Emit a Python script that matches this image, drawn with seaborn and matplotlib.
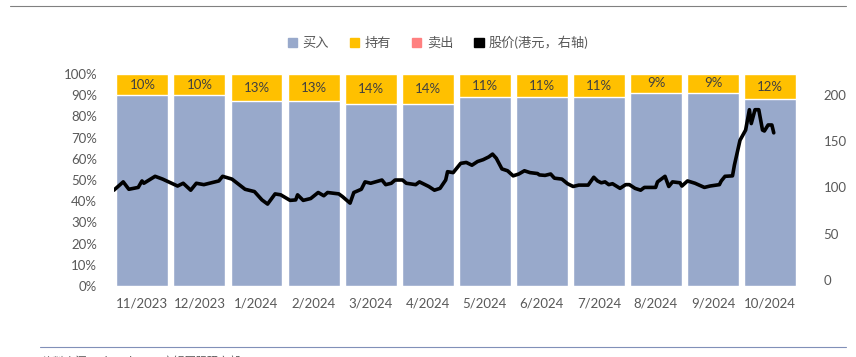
import numpy as np
import pandas as pd
import matplotlib
matplotlib.use('Agg')
import matplotlib.pyplot as plt
import seaborn as sns
from matplotlib.patches import Patch
from matplotlib.lines import Line2D

# 数据
months = ['11/2023', '12/2023', '1/2024', '2/2024', '3/2024', '4/2024',
          '5/2024', '6/2024', '7/2024', '8/2024', '9/2024', '10/2024']
hold = [10, 10, 13, 13, 14, 14, 11, 11, 11, 9, 9, 12]
sell = [0] * 12
buy = [100 - h - s for h, s in zip(hold, sell)]

# 股价：自 2023-11-01 起的天数 与 价格(港元)
days = [0, 5, 8, 13, 15, 16, 22, 26, 34, 37, 41, 44, 48, 56, 58, 63, 70, 75, 79, 82,
        86, 89, 94, 97, 98, 101, 105, 109, 112, 114, 120, 122, 126, 128, 132, 134, 137,
        143, 145, 148, 150, 154, 156, 161, 163, 168, 171, 174, 177, 178, 181, 185, 188,
        191, 194, 197, 200, 202, 204, 207, 210, 213, 216, 219, 222, 226, 227, 230, 233,
        235, 239, 242, 245, 248, 253, 256, 258, 260, 262, 264, 266, 270, 273, 275, 278,
        281, 283, 289, 290, 294, 296, 298, 302, 303, 306, 310, 315, 318, 323, 324, 326,
        330, 331, 334, 337, 339, 340, 342, 344, 346, 347, 349, 351, 352]
price = [97, 106, 98, 100, 107, 104.5, 112, 109, 101.5, 104.5, 97, 104.5, 103, 107, 112,
         109, 98, 95.5, 86.5, 82, 93, 92, 86, 86.5, 92, 86, 88, 94.5, 91, 94.5, 93, 90, 83,
         94.5, 98, 106, 104.5, 108, 103, 104.5, 108, 108, 104.5, 103, 106, 101, 97, 99, 108,
         117, 116, 126, 127, 124, 128, 130, 133, 136, 131.5, 120, 118, 112.5, 114.5, 118,
         116, 115, 113.5, 113, 114.5, 110, 109, 104, 101, 102.5, 102.5, 111, 107, 105, 106,
         103, 104, 99, 103, 103, 99, 97, 100, 100, 106, 112, 101, 106, 105, 101.5, 107,
         104.5, 100, 101.5, 103, 107, 112, 112.5, 124, 151, 162, 184, 169, 184, 184, 162,
         161, 167.5, 167.5, 159]

c_buy = '#98A9CB'
c_hold = '#FFC000'
c_sell = '#FF8080'
txt = '#595959'

sns.set_theme(style='white')
plt.rcParams['font.family'] = ['Lato', 'Noto Sans CJK SC', 'DejaVu Sans']

df = pd.DataFrame({'月份': months, '买入': buy, '持有': hold, '卖出': sell})
df['合计'] = df['买入'] + df['持有'] + df['卖出']

fig = plt.figure(figsize=(8.56, 3.57), dpi=100)
ax = fig.add_axes([0.133, 0.199, 0.8, 0.594])

sns.barplot(data=df, x='月份', y='合计', color=c_sell, width=0.91, saturation=1, ax=ax)
sns.barplot(x=df['月份'], y=df['买入'] + df['持有'], color=c_hold, width=0.91, saturation=1, ax=ax)
sns.barplot(data=df, x='月份', y='买入', color=c_buy, width=0.91, saturation=1, ax=ax)

for i, (b, h) in enumerate(zip(buy, hold)):
    ax.text(i, b + h / 2, f'{h}%', ha='center', va='center', fontsize=9.5, color='#404040')

ax.set_ylim(0, 100)
ax.set_xlim(-0.5, 11.5)
ax.set_yticks(range(0, 101, 10))
ax.set_yticklabels([f'{v}%' for v in range(0, 101, 10)])
ax.set_xlabel('')
ax.set_ylabel('')
ax.tick_params(axis='both', length=0, labelsize=9.5, colors=txt)
ax.tick_params(axis='y', pad=12)
ax.tick_params(axis='x', pad=8)
for s in ax.spines.values():
    s.set_visible(False)

ax2 = ax.twinx()
pos = np.array(days) / 30.44 - 0.5
sns.lineplot(x=pos, y=price, color='black', linewidth=2.6, ax=ax2)
ax2.set_ylim(-6.5, 222.7)
ax2.set_yticks(range(0, 201, 50))
ax2.tick_params(axis='y', length=0, labelsize=9.5, colors=txt, pad=18)
ax2.set_xlim(-0.5, 11.5)
for s in ax2.spines.values():
    s.set_visible(False)

handles = [Patch(color=c_buy), Patch(color=c_hold), Patch(color=c_sell),
           Patch(color='black')]
labels = ['买入', '持有', '卖出', '股价(港元，右轴)']
fig.legend(handles, labels, loc='center', bbox_to_anchor=(0.512, 0.882), ncol=4,
           frameon=False, fontsize=9.5, handlelength=0.7, handleheight=0.7,
           handletextpad=0.4, columnspacing=1.6, labelcolor=txt)

# 上下分隔线
fig.add_artist(Line2D([0.012, 0.988], [0.983, 0.983], color='#808080', linewidth=0.8))
fig.add_artist(Line2D([0.047, 0.988], [0.029, 0.029], color='#8190B8', linewidth=0.8))
fig.text(0.05, -0.012, '资料来源：Bloomberg，交银国际研究部', fontsize=8, color=txt, va='center')

fig.savefig('out.png', dpi=100)
